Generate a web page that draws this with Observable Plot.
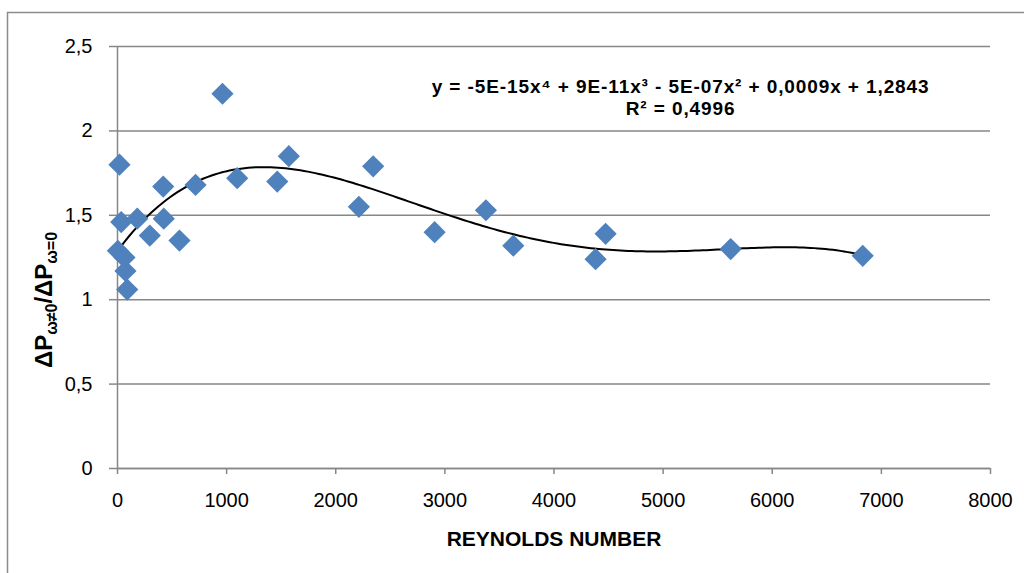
<!DOCTYPE html>
<html>
<head>
<meta charset="utf-8">
<script src="https://cdn.jsdelivr.net/npm/d3@7"></script>
<script src="https://cdn.jsdelivr.net/npm/@observablehq/plot@0.6"></script>
<style>
  html, body { margin: 0; padding: 0; background: #fff; }
  #chart svg { display: block; }
</style>
</head>
<body>
<div id="chart"></div>
<script>
// Measured pressure-drop ratio against Reynolds number
const reynolds = [3, 18, 34, 64, 73, 89, 181, 296, 419, 424, 568, 715, 962, 1097,
                  1464, 1570, 2212, 2343, 2906, 3376, 3627, 4381, 4473, 5619, 6829];
const ratio    = [1.29, 1.80, 1.46, 1.25, 1.17, 1.06, 1.48, 1.38, 1.67, 1.48, 1.35, 1.68, 2.22, 1.72,
                  1.70, 1.85, 1.55, 1.79, 1.40, 1.53, 1.32, 1.24, 1.39, 1.30, 1.26];

const xTicks = [0, 1000, 2000, 3000, 4000, 5000, 6000, 7000, 8000];
const yTicks = [0, 0.5, 1, 1.5, 2, 2.5];

const equationText = "y = -5E-15x⁴ + 9E-11x³ - 5E-07x² + 0,0009x + 1,2843\nR² = 0,4996";
const xTitle = "REYNOLDS NUMBER";

const points = reynolds.map((x, i) => ({x, y: ratio[i]}));

// Least-squares polynomial trendline of order 4 (x scaled by 1000 for stability)
function polyFit(xs, ys, order) {
  const n = order + 1;
  const A = Array.from({length: n}, () => new Array(n + 1).fill(0));
  xs.forEach((xv, k) => {
    const t = xv / 1000;
    for (let i = 0; i < n; i++) {
      for (let j = 0; j < n; j++) A[i][j] += Math.pow(t, i + j);
      A[i][n] += ys[k] * Math.pow(t, i);
    }
  });
  for (let c = 0; c < n; c++) {
    let p = c;
    for (let r = c + 1; r < n; r++) if (Math.abs(A[r][c]) > Math.abs(A[p][c])) p = r;
    [A[c], A[p]] = [A[p], A[c]];
    for (let r = 0; r < n; r++) {
      if (r === c) continue;
      const f = A[r][c] / A[c][c];
      for (let k = c; k <= n; k++) A[r][k] -= f * A[c][k];
    }
  }
  return A.map((row, i) => row[n] / row[i]);
}
const coef = polyFit(reynolds, ratio, 4);
const xMin = d3.min(reynolds), xMax = d3.max(reynolds);
const trend = d3.range(0, 201).map(i => {
  const x = xMin + (xMax - xMin) * i / 200;
  const t = x / 1000;
  return {x, y: coef.reduce((s, c, k) => s + c * Math.pow(t, k), 0)};
});

const gridColor = "#878787";
const fontStack = "'Liberation Sans', Arial, sans-serif";
const fmtComma = d => String(d).replace(".", ",");

const chart = Plot.plot({
  width: 1024,
  height: 573,
  marginLeft: 117,
  marginRight: 34,
  marginTop: 46,
  marginBottom: 105,
  style: {fontFamily: fontStack, fontSize: "20px", color: "#000", background: "#fff"},
  x: {domain: [0, 8000], label: null},
  y: {domain: [0, 2.5], label: null},
  marks: [
    Plot.gridY(yTicks, {stroke: gridColor, strokeOpacity: 1, strokeWidth: 1.5}),
    Plot.ruleX([0], {stroke: gridColor, strokeWidth: 1.5}),
    Plot.ruleY([0], {stroke: gridColor, strokeWidth: 1.5}),
    Plot.axisY(yTicks, {tickSize: 8, tickPadding: 17, stroke: gridColor, strokeWidth: 1.5, tickFormat: fmtComma, label: null, fill: "#000"}),
    Plot.axisX(xTicks, {tickSize: 6, tickPadding: 18, stroke: gridColor, strokeWidth: 1.5, tickFormat: d => String(d), label: null, fill: "#000"}),
    Plot.line(trend, {x: "x", y: "y", stroke: "#000", strokeWidth: 2, curve: "linear"}),
    Plot.dot(points, {x: "x", y: "y", symbol: "diamond2", r: 10, fill: "#4F81BD", stroke: "none"}),
    Plot.text([equationText], {x: 5160, y: 2.2, text: d => d, fontWeight: "bold", fontSize: 19, lineHeight: 1.16, textAnchor: "middle", lineAnchor: "middle", fill: "#000"}),
    Plot.text([xTitle], {frameAnchor: "bottom", dy: 71, text: d => d, fontWeight: "bold", fontSize: 21, lineAnchor: "middle", fill: "#000"})
  ]
});

const svg = d3.select(chart);
// widen the trendline equation slightly
svg.selectAll("text").filter(function() { return this.textContent.startsWith("y ="); })
  .style("letter-spacing", "0.9px");

// outer chart-area border
svg.insert("rect", ":first-child")
  .attr("x", 7.5).attr("y", 12.5).attr("width", 1040).attr("height", 600)
  .attr("fill", "none").attr("stroke", "#8c8c8c").attr("stroke-width", 1.5);

// y-axis title with subscripts
const yt = svg.append("text")
  .attr("transform", "translate(52,300) rotate(-90)")
  .attr("text-anchor", "middle")
  .attr("font-family", fontStack)
  .attr("font-weight", "bold")
  .attr("font-size", 24)
  .attr("fill", "#000");
yt.append("tspan").text("ΔP");
yt.append("tspan").attr("font-size", 16).attr("dy", 5).text("ω≠0");
yt.append("tspan").attr("dy", -5).text("/ΔP");
yt.append("tspan").attr("font-size", 16).attr("dy", 5).text("ω=0");

document.getElementById("chart").appendChild(chart);
</script>
</body>
</html>
